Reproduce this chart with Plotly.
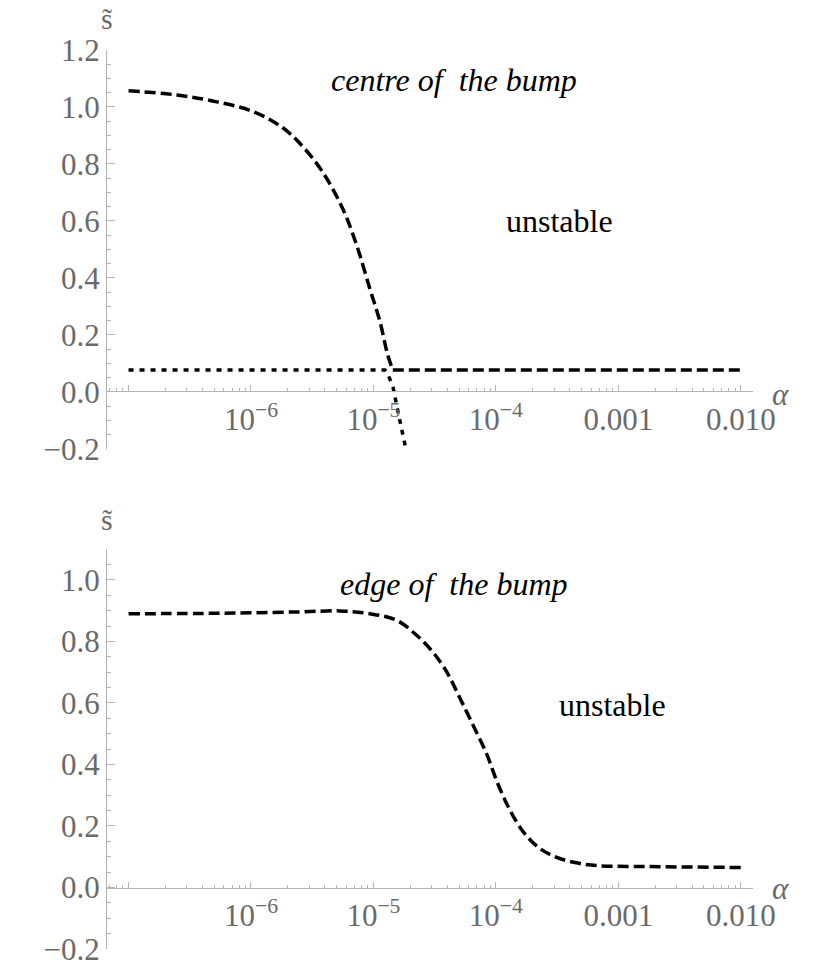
import plotly.graph_objects as go

# top panel: centre of the bump
centre_alpha = [1.0e-7, 2.49e-7, 5.27e-7, 1.04e-6, 1.82e-6, 2.65e-6, 3.87e-6,
                5.64e-6, 7.33e-6, 9.35e-6, 1.13e-5, 1.31e-5, 1.44e-5]
centre_s = [1.057, 1.042, 1.018, 0.984, 0.927, 0.861, 0.770,
            0.641, 0.512, 0.362, 0.247, 0.129, 0.077]
centre_flat_alpha = [1.44e-5, 1.0e-2]
centre_flat_s = [0.077, 0.077]

dotted_alpha = [1.0e-7, 1.24e-5, 1.32e-5, 1.45e-5, 1.58e-5, 1.71e-5, 1.84e-5]
dotted_s = [0.077, 0.077, 0.060, 0.014, -0.066, -0.136, -0.2]

# bottom panel: edge of the bump
edge_alpha = [1.0e-7, 3.84e-7, 9.8e-7, 2.51e-6, 5.33e-6, 9.35e-6, 1.556e-5,
              2.265e-5, 3.06e-5, 3.98e-5, 5.08e-5, 6.49e-5, 8.45e-5, 1.019e-4,
              1.253e-4, 1.63e-4, 2.2e-4, 3.03e-4, 4.42e-4, 6.81e-4, 1.74e-3, 1.0e-2]
edge_s = [0.890, 0.891, 0.893, 0.896, 0.899, 0.890, 0.868,
          0.819, 0.765, 0.700, 0.616, 0.529, 0.432, 0.345,
          0.265, 0.187, 0.132, 0.100, 0.081, 0.071, 0.068, 0.065]

x_major = [1e-7, 1e-6, 1e-5, 1e-4, 1e-3, 1e-2]
x_labels = ["", "10<sup>−6</sup>", "10<sup>−5</sup>", "10<sup>−4</sup>", "0.001", "0.010"]
x_minor = [m * 10.0 ** k for k in range(-8, -2) for m in range(2, 10)]

y_top_major = [-0.2, 0.0, 0.2, 0.4, 0.6, 0.8, 1.0, 1.2]
y_bot_major = [-0.2, 0.0, 0.2, 0.4, 0.6, 0.8, 1.0]

GRAY = "#b4b4b4"
SERIF = "Liberation Serif, Times New Roman, serif"
TICKFONT = dict(family=SERIF, size=31, color="#6a6a6a")
DASH = dict(color="black", width=3.5, dash="11px,5px")
DOT = dict(color="black", width=3.5, dash="5px,6px")


def ylabels(vals):
    return [("−" if v < 0 else "") + f"{abs(v):.1f}" for v in vals]


def xaxis(pos):
    return dict(type="log", range=[-7.176, -1.90], anchor="free", position=pos,
                showline=True, linecolor=GRAY, linewidth=1,
                ticks="inside", ticklen=6, tickcolor=GRAY,
                tickmode="array", tickvals=x_major, ticktext=x_labels,
                tickfont=TICKFONT, showgrid=False, zeroline=False,
                minor=dict(tickmode="array", tickvals=x_minor, ticks="inside",
                           ticklen=3, tickcolor=GRAY, showgrid=False))


def yaxis(rng, dom, major, anchor):
    return dict(range=rng, domain=dom, anchor=anchor,
                showline=True, linecolor=GRAY, linewidth=1,
                ticks="inside", ticklen=8, tickcolor=GRAY,
                tickmode="array", tickvals=major, ticktext=ylabels(major),
                tickfont=TICKFONT, showgrid=False, zeroline=False,
                minor=dict(dtick=0.05, tick0=0, ticks="inside", ticklen=4,
                           tickcolor=GRAY, showgrid=False))


fig = go.Figure()
fig.add_trace(go.Scatter(x=dotted_alpha, y=dotted_s, mode="lines", line=DOT,
                         xaxis="x", yaxis="y"))
fig.add_trace(go.Scatter(x=centre_alpha, y=centre_s, mode="lines",
                         line=dict(**DASH, shape="spline", smoothing=1.0),
                         xaxis="x", yaxis="y"))
fig.add_trace(go.Scatter(x=centre_flat_alpha, y=centre_flat_s, mode="lines", line=DASH,
                         xaxis="x", yaxis="y"))
fig.add_trace(go.Scatter(x=edge_alpha, y=edge_s, mode="lines",
                         line=dict(**DASH, shape="spline", smoothing=1.0),
                         xaxis="x2", yaxis="y2"))

ann = [
    ("<i>centre of\u00a0 the bump</i>", 0.537, 0.9669, 32, "black"),
    ("unstable", 0.701, 0.8102, 32, "black"),
    ("<i>edge of\u00a0 the bump</i>", 0.537, 0.4062, 32, "black"),
    ("unstable", 0.783, 0.2715, 32, "black"),
    ("s̃", 0.0, 1.035, 30, "#6a6a6a"),
    ("s̃", 0.0, 0.478, 30, "#6a6a6a"),
    ("<i>α</i>", 1.0418, 0.617, 31, "#6a6a6a"),
    ("<i>α</i>", 1.0418, 0.067, 31, "#6a6a6a"),
]

fig.update_layout(
    width=830, height=979,
    paper_bgcolor="white", plot_bgcolor="white",
    margin=dict(l=107, r=77, t=50, b=23),
    showlegend=False,
    font=dict(family=SERIF),
    xaxis=xaxis(0.6203),
    xaxis2=xaxis(0.0684),
    yaxis=yaxis([-0.2, 1.2], [0.5563, 1.0], y_top_major, "x"),
    yaxis2=yaxis([-0.2, 1.1], [0.0, 0.4448], y_bot_major, "x2"),
    annotations=[dict(text=t, x=x, y=y, xref="paper", yref="paper",
                      showarrow=False, xanchor="center", yanchor="middle",
                      font=dict(family=SERIF, size=s, color=c))
                 for t, x, y, s, c in ann],
)

# drop the page's default body margin so the figure sits at the window origin
fig.write_html("out.html", config={"displayModeBar": False},
               post_script="document.body.style.margin='0';")
